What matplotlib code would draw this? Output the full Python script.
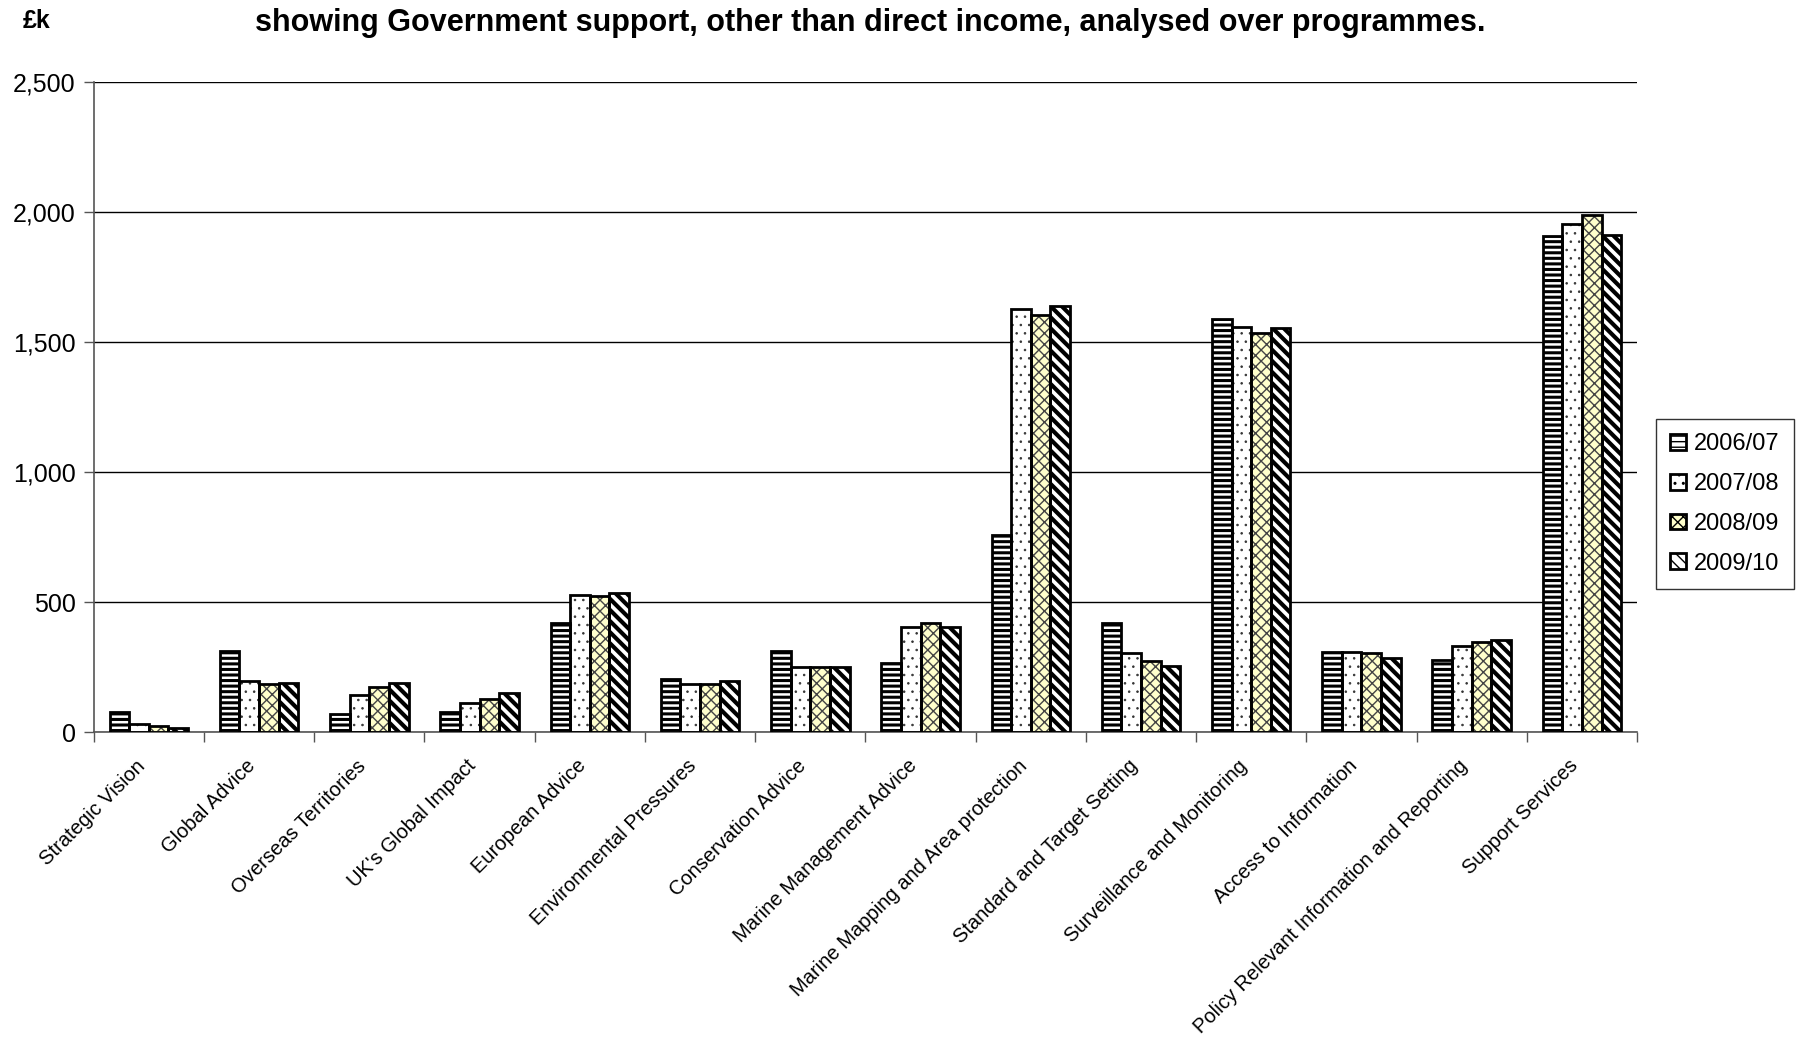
import numpy as np
import matplotlib
matplotlib.use("Agg")
import matplotlib.pyplot as plt
from matplotlib.patches import Patch
from matplotlib.ticker import FuncFormatter, MultipleLocator

plt.rcParams['font.family'] = ['Liberation Sans', 'DejaVu Sans']

categories = ['Strategic Vision', 'Global Advice', 'Overseas Territories',
              "UK's Global Impact", 'European Advice', 'Environmental Pressures',
              'Conservation Advice', 'Marine Management Advice',
              'Marine Mapping and Area protection', 'Standard and Target Setting',
              'Surveillance and Monitoring', 'Access to Information',
              'Policy Relevant Information and Reporting', 'Support Services']
years = ['2006/07', '2007/08', '2008/09', '2009/10']
v0607 = [77, 313, 71, 77, 418, 204, 311, 266, 757, 419, 1590, 309, 277, 1908]
v0708 = [30, 196, 144, 111, 527, 184, 251, 406, 1627, 303, 1557, 307, 333, 1955]
v0809 = [24, 186, 174, 126, 522, 184, 251, 418, 1604, 273, 1533, 303, 348, 1987]
v0910 = [17, 188, 189, 151, 536, 196, 251, 403, 1638, 255, 1554, 286, 353, 1913]
series = [v0607, v0708, v0809, v0910]

# fill, hatch, hatch colour, hatch line width
styles = [('white', '---', 'black', 2.2),
          ('white', '..', '#333333', 0.6),
          ('#FFFFCC', 'xxx', '#444444', 1.0),
          ('white', '\\\\\\', 'black', 3.0)]

fig = plt.figure(figsize=(18.01, 10.37), dpi=100)
ax = fig.add_axes([0.052, 0.294, 0.857, 0.627])

x = np.arange(len(categories))
w = 0.178
for i, vals in enumerate(series):
    fc, h, hc, hl = styles[i]
    pos = x + (i - 1.5) * w
    with plt.rc_context({'hatch.linewidth': hl, 'hatch.color': hc}):
        bars = ax.bar(pos, vals, w, color=fc, edgecolor=hc, linewidth=0, hatch=h, zorder=2)
    for b in bars:
        try:
            b.set_hatch_linewidth(hl)
        except AttributeError:
            pass
    ax.bar(pos, vals, w, fill=False, edgecolor='black', linewidth=2.0, zorder=3)

ax.set_xlim(-0.5, len(categories) - 0.5)
ax.set_ylim(0, 2500)
ax.yaxis.set_major_locator(MultipleLocator(500))
ax.yaxis.set_major_formatter(FuncFormatter(lambda v, p: f'{int(v):,}'))
ax.grid(axis='y', color='black', linewidth=1.0, zorder=0)
ax.set_axisbelow(True)

ax.set_xticks(x)
ax.set_xticklabels(categories, rotation=45, ha='right', va='bottom',
                   rotation_mode='anchor', fontsize=14.5)
ax.set_xticks(np.arange(len(categories) + 1) - 0.5, minor=True)
ax.tick_params(axis='x', which='major', length=0, pad=27)
ax.tick_params(axis='x', which='minor', length=7, width=1, color='#555555')
ax.tick_params(axis='y', length=7, width=1, color='#555555', labelsize=18, pad=6)

for s in ['top', 'right']:
    ax.spines[s].set_visible(False)
for s in ['left', 'bottom']:
    ax.spines[s].set_color('#555555')
    ax.spines[s].set_linewidth(1.2)

handles = []
for i, yr in enumerate(years):
    fc, h, hc, hl = styles[i]
    handles.append(Patch(facecolor=fc, edgecolor='black', hatch=h, linewidth=2.0, label=yr))
leg = fig.legend(handles=handles, loc='center left', bbox_to_anchor=(0.913, 0.514),
                 fontsize=17, frameon=True, fancybox=False, edgecolor='black',
                 handlelength=0.65, handleheight=0.65, handletextpad=0.35,
                 labelspacing=0.75, borderpad=0.6)
leg.get_frame().set_linewidth(1.0)

fig.text(0.4834, 0.978, 'showing Government support, other than direct income, analysed over programmes.',
         ha='center', va='center', fontsize=22, fontweight='bold')
fig.text(0.0128, 0.980, '£k', ha='left', va='center', fontsize=18, fontweight='bold')

fig.savefig('out.png', dpi=100)
